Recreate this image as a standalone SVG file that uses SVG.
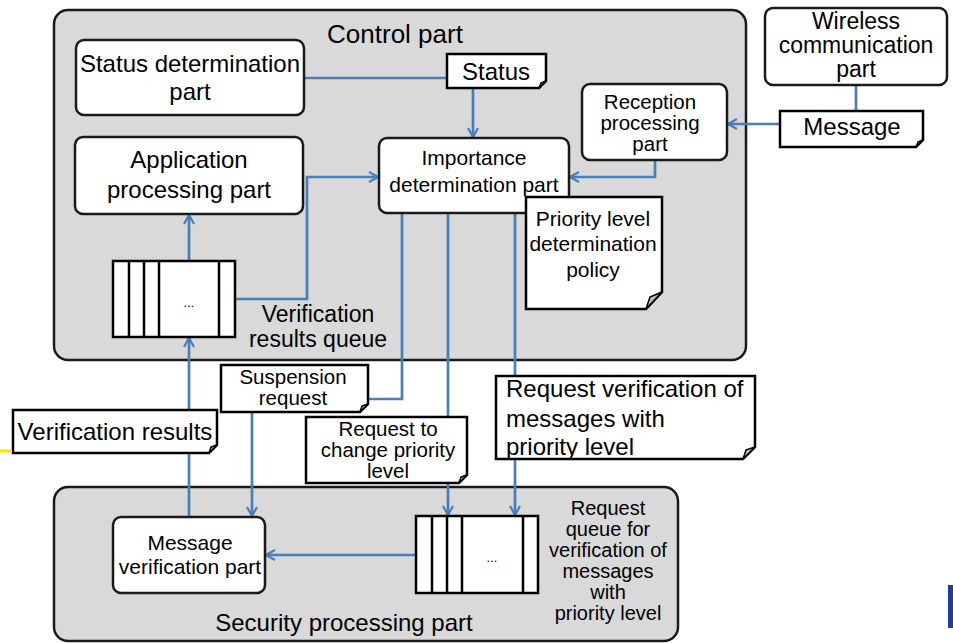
<svg xmlns="http://www.w3.org/2000/svg" width="953" height="643" viewBox="0 0 953 643">
<defs>
<style>
text{font-family:"Liberation Sans",Arial,sans-serif;fill:#000}
.c{text-anchor:middle}
.box{fill:#fff;stroke:#1a1a1a;stroke-width:2.5}
.cont{fill:#d9d9d9;stroke:#1a1a1a;stroke-width:2.5}
.note{fill:#fff;stroke:#000;stroke-width:2.5}
.fold{fill:#bfbfbf;stroke:#000;stroke-width:1.5;stroke-linejoin:round}
.ln{fill:none;stroke:#4a7ebb;stroke-width:2.7}
.ar{marker-end:url(#arr)}
.q{fill:#fff;stroke:#000;stroke-width:2.5}
.qd{stroke:#000;stroke-width:2.5}
</style>
<marker id="arr" viewBox="0 0 12 12" refX="11" refY="6" markerWidth="12" markerHeight="12" markerUnits="userSpaceOnUse" orient="auto"><path d="M2,1 L11,6 L2,11" fill="none" stroke="#4a7ebb" stroke-width="2.2"/></marker>
</defs>

<rect x="0" y="0" width="953" height="643" fill="#fff"/>

<g id="control-part">
<rect class="cont" x="54" y="10" width="692" height="350" rx="14"/>
<text class="c" x="395" y="43" font-size="26">Control part</text>
</g>
<g id="security-processing-part">
<rect class="cont" x="54" y="487" width="624" height="154" rx="14"/>
<text class="c" x="344" y="631" font-size="24">Security processing part</text>
</g>

<g id="connectors">
<path class="ln" d="M304,78 H447"/>
<path class="ln ar" d="M473,88 V137"/>
<path class="ln" d="M856,85 V112"/>
<path class="ln ar" d="M780,124 H728"/>
<path class="ln ar" d="M655,160 V177 H570"/>
<path class="ln ar" d="M189,261 V215"/>
<path class="ln ar" d="M235,299 H307 V177 H378"/>
<path class="ln" d="M402,213 V399 H368"/>
<path class="ln ar" d="M448,213 V515"/>
<path class="ln ar" d="M515,213 V515"/>
<path class="ln ar" d="M252,412 V516"/>
<path class="ln ar" d="M189,517 V338"/>
<path class="ln ar" d="M416,555 H266"/>
</g>

<g id="status-determination-part">
<rect class="box" x="76" y="40" width="228" height="75" rx="8"/>
<text class="c" x="190" y="72" font-size="24">Status determination</text>
<text class="c" x="190" y="100" font-size="24">part</text>
</g>

<g id="status-note">
<path class="note" d="M447,54 H546 V81 L539,88 H447 Z"/>
<path class="fold" d="M539,88 L541,83 L546,81 Z"/>
<text class="c" x="496" y="80" font-size="24">Status</text>
</g>

<g id="wireless-communication-part">
<rect class="box" x="765" y="8" width="182" height="77" rx="8"/>
<text class="c" x="856" y="29" font-size="23">Wireless</text>
<text class="c" x="856" y="53" font-size="23">communication</text>
<text class="c" x="856" y="77" font-size="23">part</text>
</g>

<g id="message-note">
<path class="note" d="M780,111 H923 V140 L916,147 H780 Z"/>
<path class="fold" d="M916,147 L918,142 L923,140 Z"/>
<text class="c" x="852" y="135" font-size="24">Message</text>
</g>

<g id="reception-processing-part">
<rect class="box" x="582" y="84" width="145" height="76" rx="8"/>
<text class="c" x="650" y="109" font-size="20.5">Reception</text>
<text class="c" x="650" y="130" font-size="20.5">processing</text>
<text class="c" x="650" y="151" font-size="20.5">part</text>
</g>

<g id="importance-determination-part">
<rect class="box" x="379" y="138" width="190" height="75" rx="8"/>
<text class="c" x="474" y="165" font-size="21">Importance</text>
<text class="c" x="474" y="192" font-size="21">determination part</text>
</g>

<g id="priority-policy-note">
<path class="note" d="M526,197 H662 V292 L646,309 H526 Z"/>
<path class="fold" d="M646,309 L650,297 L662,292 Z"/>
<text class="c" x="593" y="226" font-size="21">Priority level</text>
<text class="c" x="593" y="251" font-size="21">determination</text>
<text class="c" x="593" y="277" font-size="21">policy</text>
</g>

<g id="application-processing-part">
<rect class="box" x="75" y="137" width="228" height="77" rx="8"/>
<text class="c" x="189" y="168" font-size="24">Application</text>
<text class="c" x="189" y="198" font-size="24">processing part</text>
</g>

<g id="verification-results-queue">
<rect class="q" x="113" y="261" width="122" height="76"/>
<path class="qd" d="M129,261 V337 M144,261 V337 M159,261 V337 M219,261 V337"/>
<text class="c" x="189" y="307" font-size="13">...</text>
<text class="c" x="318" y="322" font-size="23">Verification</text>
<text class="c" x="318" y="347" font-size="23">results queue</text>
</g>

<g id="suspension-request-note">
<path class="note" d="M221,365 H368 V404 L360,412 H221 Z"/>
<path class="fold" d="M360,412 L362,406 L368,404 Z"/>
<text class="c" x="293" y="384" font-size="20.5">Suspension</text>
<text class="c" x="293" y="405" font-size="20.5">request</text>
</g>

<g id="verification-results-note">
<path class="note" d="M13,410 H217 V445 L209,453 H13 Z"/>
<path class="fold" d="M209,453 L211,447 L217,445 Z"/>
<text class="c" x="115" y="440" font-size="24">Verification results</text>
</g>
<path d="M0,451 H12" stroke="#ffe100" stroke-width="3"/>

<g id="request-change-priority-note">
<path class="note" d="M306,417 H467 V475 L459,483 H306 Z"/>
<path class="fold" d="M459,483 L461,477 L467,475 Z"/>
<text class="c" x="388" y="436" font-size="20.5">Request to</text>
<text class="c" x="388" y="457" font-size="20.5">change priority</text>
<text class="c" x="388" y="478" font-size="20.5">level</text>
</g>

<g id="request-verification-note">
<path class="note" d="M496,376 H755 V447 L743,459 H496 Z"/>
<path class="fold" d="M743,459 L746,450 L755,447 Z"/>
<text x="506" y="397" font-size="24">Request verification of</text>
<text x="506" y="427" font-size="24">messages with</text>
<text x="506" y="455" font-size="24">priority level</text>
</g>

<g id="message-verification-part">
<rect class="box" x="113" y="517" width="152" height="76" rx="8"/>
<text class="c" x="190" y="550" font-size="21">Message</text>
<text class="c" x="190" y="574" font-size="21">verification part</text>
</g>

<g id="request-queue">
<rect class="q" x="416" y="516" width="122" height="77"/>
<path class="qd" d="M432,516 V593 M447,516 V593 M462,516 V593 M523,516 V593"/>
<text class="c" x="492" y="562" font-size="13">...</text>
<text class="c" x="608" y="515" font-size="20">Request</text>
<text class="c" x="608" y="536" font-size="20">queue for</text>
<text class="c" x="608" y="557" font-size="20">verification of</text>
<text class="c" x="608" y="578" font-size="20">messages</text>
<text class="c" x="608" y="599" font-size="20">with</text>
<text class="c" x="608" y="620" font-size="20">priority level</text>
</g>

<rect x="948" y="585" width="5" height="43" fill="#1b3d9e"/>
</svg>
